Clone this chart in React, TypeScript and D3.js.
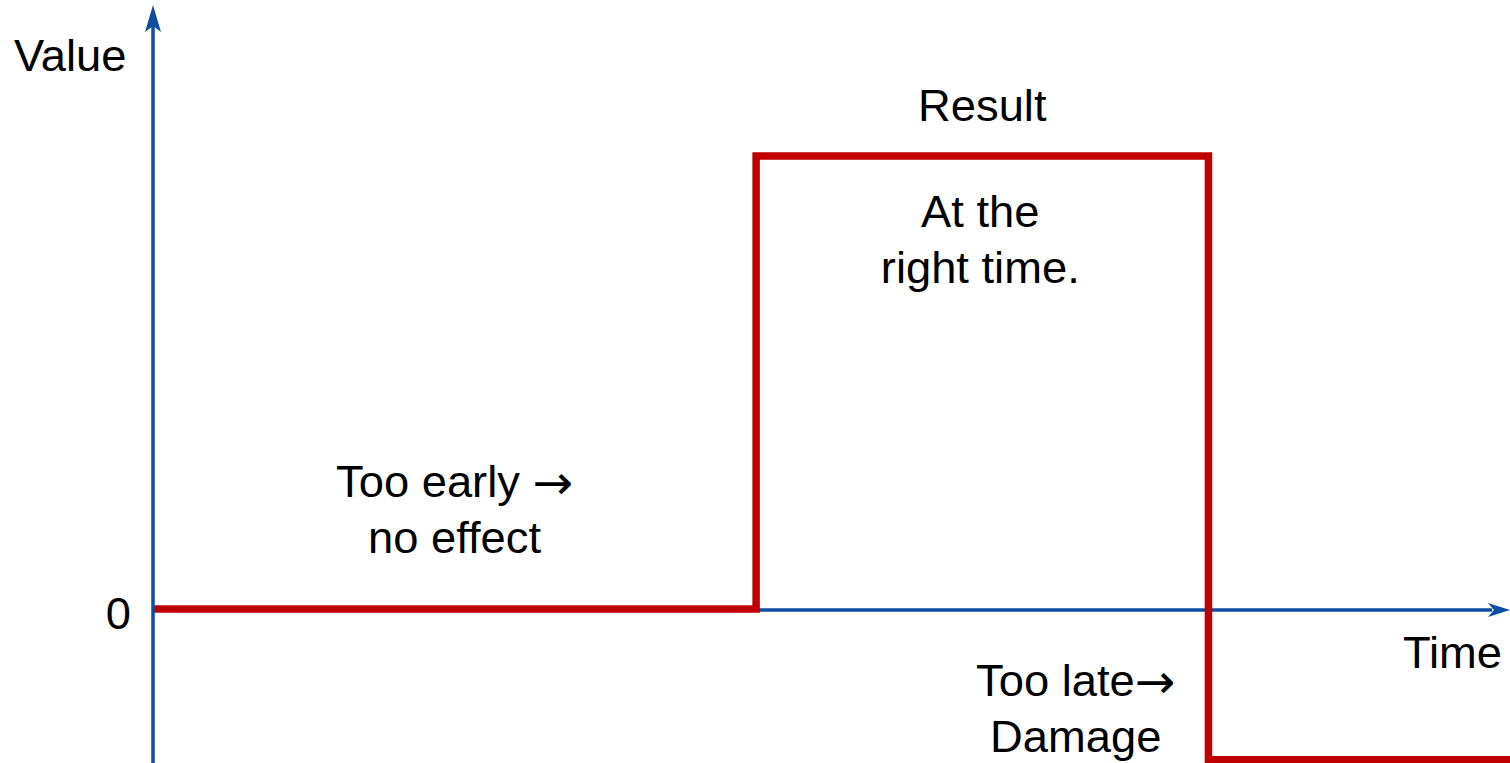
import * as d3 from 'd3';
import React from 'react';

// time (x) breakpoints and the value that holds from each one on
const stepTimes = [0, 4, 7, 9];
const stepValues = [0, 1, -0.333, -0.333];

const axisLabels = { y: 'Value', x: 'Time', zero: '0' };
const resultLabel = 'Result';
const rightLines = ['At the', 'right time.'];
const earlyLines = ['Too early ', 'no effect'];
const lateLines = ['Too late', 'Damage'];
const ARROW = '\u2192';

const W = 1510, H = 763;
const BLUE = '#0b4ea2';
const RED = '#c00000';
const FONT = '"Liberation Sans", Arial, sans-serif';
const FS = 44;
const LINE = 56;

export default function App() {
    const x = d3.scaleLinear().domain([0, 9]).range([153, 1510]);
    const y = d3.scaleLinear().domain([0, 1]).range([609, 156]);

    const pts = stepTimes.map((t, i) => [t, stepValues[i]] as [number, number]);
    const line = d3.line<[number, number]>()
        .x(d => x(d[0]))
        .y(d => y(d[1]))
        .curve(d3.curveStepAfter);

    const x0 = x(0), y0 = y(0);

    const txt = (s: string, px: number, py: number, anchor = 'middle', key?: string, arrow = false) => (
        <text key={key || s} x={px} y={py} textAnchor={anchor}
            fontFamily={FONT} fontSize={FS} fill="#000"
            transform={`translate(${px},0) scale(1.03,1) translate(${-px},0)`}>
            {s}
            {arrow && <tspan fontFamily='"DejaVu Sans", sans-serif' fontSize={47} dy={2}>{ARROW}</tspan>}
        </text>
    );

    return (
        <svg width={W} height={H} style={{ position: 'absolute', left: 0, top: 0, background: '#fff' }}>
            {/* time axis */}
            <line x1={x0} x2={1492} y1={y0 + 1} y2={y0 + 1} stroke={BLUE} strokeWidth={3.5} />
            <polygon points={`1510,${y0 + 1} 1488,${y0 - 6} 1494,${y0 + 1} 1488,${y0 + 8}`} fill={BLUE} />

            {/* the step */}
            <path d={line(pts) || ''} fill="none" stroke={RED} strokeWidth={7.5} strokeLinejoin="miter" />

            {/* value axis */}
            <line x1={x0} x2={x0} y1={H} y2={26} stroke={BLUE} strokeWidth={3.5} />
            <polygon points={`${x0},5 ${x0 - 8},32 ${x0},26 ${x0 + 8},32`} fill={BLUE} />

            {txt(axisLabels.y, 14, 71, 'start')}
            {txt(axisLabels.zero, 131, 629, 'end')}
            {txt(axisLabels.x, 1502, 668, 'end')}

            {txt(resultLabel, x(5.5), 121)}
            {rightLines.map((s, i) => txt(s, x(5.5) - 2, 227 + i * LINE, 'middle', 'r' + i))}
            {earlyLines.map((s, i) => txt(s, x(2.0), 497 + i * LINE, 'middle', 'e' + i, i === 0))}
            {lateLines.map((s, i) => txt(s, x(6.12), 696 + i * LINE, 'middle', 'l' + i, i === 0))}
        </svg>
    );
}
